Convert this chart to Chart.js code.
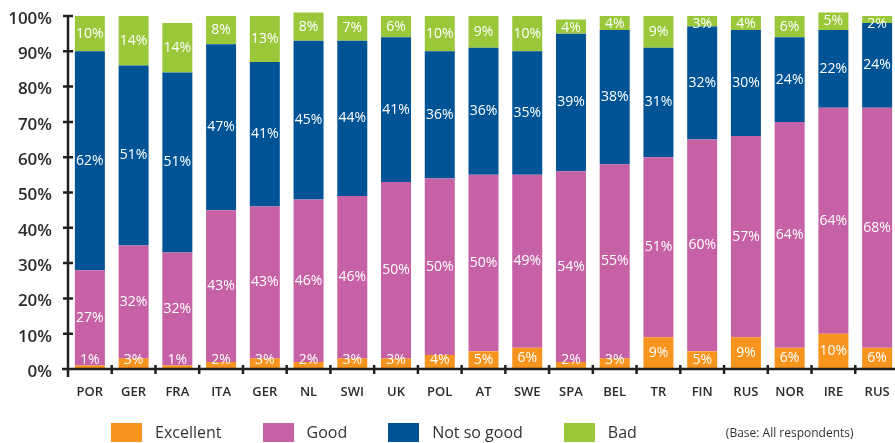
<!DOCTYPE html>
<html>
<head>
<meta charset="utf-8">
<script src="https://cdn.jsdelivr.net/npm/chart.js@4"></script>
<style>
  body { margin: 0; background: #fff; overflow: hidden; font-family: 'Open Sans', sans-serif; }
  #wrap { position: relative; width: 900px; height: 443px; }
  #legend { position: absolute; left: 111px; top: 421px; display: flex; align-items: center; color: #333; font-size: 16px; }
  #legend .item { display: flex; align-items: center; margin-right: 41px; }
  #legend .box { width: 31px; height: 19px; margin-right: 13px; }
  #legend .base { font-size: 12px; margin-left: 48px; }
</style>
</head>
<body>
<div id="wrap">
  <canvas id="chart"></canvas>
  <div id="legend"></div>
</div>
<script>
const categories = ['POR', 'GER', 'FRA', 'ITA', 'GER', 'NL', 'SWI', 'UK', 'POL', 'AT', 'SWE', 'SPA', 'BEL', 'TR', 'FIN', 'RUS', 'NOR', 'IRE', 'RUS'];
const excellent = [1, 3, 1, 2, 3, 2, 3, 3, 4, 5, 6, 2, 3, 9, 5, 9, 6, 10, 6];
const good = [27, 32, 32, 43, 43, 46, 46, 50, 50, 50, 49, 54, 55, 51, 60, 57, 64, 64, 68];
const notSoGood = [62, 51, 51, 47, 41, 45, 44, 41, 36, 36, 35, 39, 38, 31, 32, 30, 24, 22, 24];
const bad = [10, 14, 14, 8, 13, 8, 7, 6, 10, 9, 10, 4, 4, 9, 3, 4, 6, 5, 2];
const yTicks = [0, 10, 20, 30, 40, 50, 60, 70, 80, 90, 100];

const seriesNames = ['Excellent', 'Good', 'Not so good', 'Bad'];
const colors = ['#f7941d', '#c561a4', '#005496', '#9bc83b'];

Chart.defaults.font.family = "'Open Sans', sans-serif";

// axes with ticks crossing the line, plus white value labels
const axesAndLabels = {
    id: 'axesAndLabels',
    afterDatasetsDraw(chart) {
        const ctx = chart.ctx;
        const area = chart.chartArea;
        const xs = chart.scales.x;
        const ys = chart.scales.y;

        // value labels
        ctx.save();
        ctx.fillStyle = '#fff';
        ctx.font = "14px 'Open Sans', sans-serif";
        ctx.textAlign = 'center';
        ctx.textBaseline = 'middle';
        chart.data.datasets.forEach((ds, di) => {
            chart.getDatasetMeta(di).data.forEach((bar, i) => {
                let cy = (bar.y + bar.base) / 2;
                if (di === 0) cy = Math.min(cy, bar.base - 9);
                if (di === 3) cy = Math.max(cy, bar.y + 8);
                ctx.fillText(ds.data[i] + '%', bar.x, cy);
            });
        });
        ctx.restore();

        // axis lines
        ctx.save();
        ctx.strokeStyle = '#231f20';
        ctx.lineWidth = 2.5;
        ctx.beginPath();
        ctx.moveTo(area.left, area.top - 1);
        ctx.lineTo(area.left, area.bottom + 8);
        ctx.moveTo(area.left - 6, area.bottom);
        ctx.lineTo(chart.width, area.bottom);
        yTicks.forEach(v => {
            const y = ys.getPixelForValue(v);
            ctx.moveTo(area.left - 5, y);
            ctx.lineTo(area.left + 5, y);
        });
        for (let i = 1; i < categories.length; i++) {
            const x = (xs.getPixelForValue(i - 1) + xs.getPixelForValue(i)) / 2;
            ctx.moveTo(x, area.bottom - 4);
            ctx.lineTo(x, area.bottom + 5);
        }
        ctx.stroke();
        ctx.restore();
    }
};

new Chart(document.getElementById('chart'), {
    type: 'bar',
    data: {
        labels: categories,
        datasets: [excellent, good, notSoGood, bad].map((d, i) => ({
            label: seriesNames[i],
            data: d,
            backgroundColor: colors[i],
            borderWidth: 0,
            barPercentage: 0.686,
            categoryPercentage: 1,
            clip: false
        }))
    },
    options: {
        responsive: true,
        maintainAspectRatio: false,
        animation: false,
        layout: { padding: { top: 16, right: 1, left: 0, bottom: 0 } },
        plugins: { legend: { display: false }, tooltip: { enabled: false } },
        scales: {
            x: {
                stacked: true,
                grid: { display: false, drawTicks: false },
                border: { display: false },
                ticks: { color: '#2b2b2b', font: { size: 13, weight: '600' }, padding: 15, maxRotation: 0, autoSkip: false },
                afterFit: s => { s.height = 74; s.paddingLeft = 0; s.paddingRight = 0; }
            },
            y: {
                stacked: true,
                min: 0,
                max: 100,
                grid: { display: false, drawTicks: false },
                border: { display: false },
                ticks: { stepSize: 10, callback: v => v + '%', color: '#2b2b2b', padding: 16, labelOffset: 3, font: { size: 17, weight: '600' } },
                afterFit: s => { s.width = 68; s.paddingTop = 0; s.paddingBottom = 0; }
            }
        }
    },
    plugins: [axesAndLabels]
});

// legend
const legend = document.getElementById('legend');
seriesNames.forEach((name, i) => {
    const item = document.createElement('div');
    item.className = 'item';
    item.innerHTML = `<span class="box" style="background:${colors[i]}"></span><span>${name}</span>`;
    legend.appendChild(item);
});
const base = document.createElement('span');
base.className = 'base';
base.textContent = '(Base: All respondents)';
legend.appendChild(base);
</script>
</body>
</html>
